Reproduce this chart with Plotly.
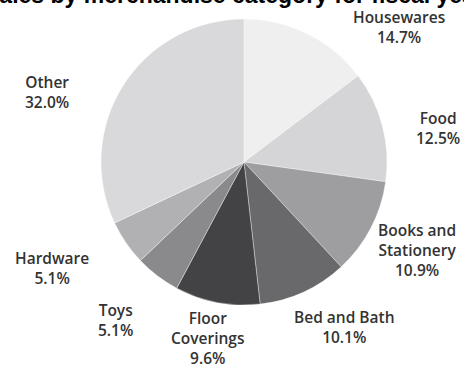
import plotly.graph_objects as go

categories = ["Housewares", "Food", "Books and<br>Stationery", "Bed and Bath",
              "Floor<br>Coverings", "Toys", "Hardware", "Other"]
shares = [14.7, 12.5, 10.9, 10.1, 9.6, 5.1, 5.1, 32.0]
colors = ["#efefef", "#d5d5d7", "#9e9ea1", "#69696c", "#434345", "#8a8a8d", "#b1b1b4", "#d9d9db"]
title_text = "Sales by merchandise category for fiscal year"

# label anchor positions in pixels (layout only)
label_px = [(399, 27), (438, 128), (417, 250), (344, 327), (208, 338), (115, 320), (52, 268), (47, 92)]

W, H = 464, 371
cx, cy, r = 244, 162, 143

fig = go.Figure(go.Pie(
    labels=categories, values=shares, sort=False, direction="clockwise", rotation=0,
    marker=dict(colors=colors, line=dict(color="rgba(255,255,255,0.6)", width=0.6)),
    textinfo="none", hoverinfo="label+percent", showlegend=False,
    domain=dict(x=[(cx - r) / W, (cx + r) / W], y=[1 - (cy + r) / H, 1 - (cy - r) / H]),
))

annotations = []
for cat, val, (px, py) in zip(categories, shares, label_px):
    annotations.append(dict(
        text=f"{cat}<br>{val:.1f}%", x=px / W, y=1 - py / H, xref="paper", yref="paper",
        xanchor="center", yanchor="middle", showarrow=False, align="center",
        font=dict(family="Open Sans", size=15.5, color="#333333", weight=600),
    ))
annotations.append(dict(
    text=title_text, x=234 / W, y=1 - 6 / H, xref="paper", yref="paper",
    xanchor="center", yanchor="bottom", showarrow=False, yshift=-4,
    font=dict(family="Liberation Sans", size=23, color="#000000", weight="bold"),
))

fig.update_layout(
    width=W, height=H, margin=dict(l=0, r=0, t=0, b=0),
    paper_bgcolor="white", plot_bgcolor="white", annotations=annotations,
)
fig.write_html("out.html")
